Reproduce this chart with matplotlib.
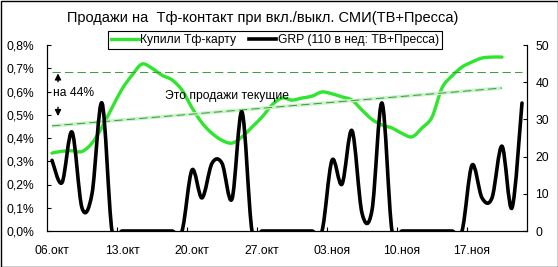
import matplotlib
matplotlib.use('Agg')
import matplotlib.pyplot as plt
from matplotlib.lines import Line2D
from matplotlib.path import Path
from matplotlib.patches import PathPatch, Rectangle

plt.rcParams['font.family'] = ['Liberation Sans', 'DejaVu Sans']

# Days from 06.окт (index 0) to 22.ноя (index 47)
tick_days = [0, 7, 14, 21, 28, 35, 42]
tick_labels = ['06.окт', '13.окт', '20.окт', '27.окт', '03.ноя', '10.ноя', '17.ноя']

# Купили Тф-карту, % (days 0..45)
sales = [0.335, 0.343, 0.345, 0.342, 0.378, 0.447, 0.530, 0.610, 0.670, 0.718,
         0.700, 0.670, 0.650, 0.606, 0.530, 0.465, 0.420, 0.390, 0.378, 0.405,
         0.447, 0.490, 0.542, 0.572, 0.563, 0.572, 0.580, 0.598, 0.590, 0.577,
         0.563, 0.520, 0.480, 0.456, 0.443, 0.420, 0.405, 0.443, 0.490, 0.615,
         0.667, 0.705, 0.727, 0.744, 0.748, 0.748]

# GRP (days 0..47)
grp = [19.0, 13.0, 26.6, 6.2, 10.0, 34.4, 0, 0, 0, 0,
       0, 0, 0, 0, 16.4, 8.9, 18.2, 18.2, 8.6, 32.0,
       0, 0, 0, 0, 0, 0, 0, 0, 19.0, 12.6,
       27.0, 4.8, 5.6, 34.4, 0, 0, 0, 0, 0, 0,
       0, 0, 17.7, 8.9, 8.9, 22.8, 6.2, 34.4]

# reference levels
top_level_x = [0, 47]
top_level_y = [0.685, 0.685]
trend_x = [0, 45]
trend_y = [0.452, 0.615]

green = '#2ee62e'
dash_green = '#3f9f3f'


def smooth_path(ys):
    # Excel-style smoothed line: bezier segments between the data points
    pts = list(enumerate(ys))
    verts = [pts[0]]
    codes = [Path.MOVETO]
    n = len(pts)
    for i in range(n - 1):
        p0 = pts[max(i - 1, 0)]
        p1 = pts[i]
        p2 = pts[i + 1]
        p3 = pts[min(i + 2, n - 1)]
        c1 = (p1[0] + (p2[0] - p0[0]) / 6, p1[1] + (p2[1] - p0[1]) / 6)
        c2 = (p2[0] - (p3[0] - p1[0]) / 6, p2[1] - (p3[1] - p1[1]) / 6)
        verts += [c1, c2, p2]
        codes += [Path.CURVE4] * 3
    return Path(verts, codes)


fig = plt.figure(figsize=(5.58, 2.67), dpi=100)
ax = fig.add_axes([47/558, 36/267, 480/558, 186/267])
ax2 = ax.twinx()

ax.plot(top_level_x, top_level_y, color=dash_green, lw=0.75, dashes=(8, 4))
ax.plot(trend_x, trend_y, color='#c9f2c9', lw=2.5, solid_capstyle='butt')
ax.plot(trend_x, trend_y, color=dash_green, lw=0.75, dashes=(8, 4))
ax.add_patch(PathPatch(smooth_path(sales), fill=False, edgecolor=green, lw=2.4,
                       joinstyle='round', capstyle='round'))
ax2.add_patch(PathPatch(smooth_path(grp), fill=False, edgecolor='black', lw=2.6,
                        joinstyle='round', capstyle='round'))

ax.set_xlim(-0.5, 47.5)
ax.set_ylim(0, 0.8)
ax2.set_xlim(-0.5, 47.5)
ax2.set_ylim(0, 50)

ax.set_yticks([i / 10 for i in range(9)])
ax.set_yticklabels([('%.1f%%' % (i / 10)).replace('.', ',') for i in range(9)])
ax2.set_yticks(range(0, 51, 10))
ax.set_xticks(tick_days)
ax.set_xticklabels(tick_labels)
ax.set_xticks([d - 0.5 for d in tick_days[1:]], minor=True)

for a in (ax, ax2):
    a.spines['top'].set_visible(False)
    a.tick_params(labelsize=8.7, direction='in', length=3, width=0.8)
ax.tick_params(axis='y', pad=9)
ax2.tick_params(axis='y', pad=6)
ax.tick_params(axis='x', which='major', length=0, pad=10)
ax.tick_params(axis='x', which='minor', length=3, width=0.8, direction='in')

# annotations
ax.text(0.1, 0.594, 'на 44%', fontsize=8.7, va='center', ha='left')
ax.annotate('', xy=(0.6, 0.678), xytext=(0.6, 0.642),
            arrowprops=dict(arrowstyle='-|>', color='black', lw=1.0,
                            mutation_scale=9, shrinkA=0, shrinkB=0))
ax.annotate('', xy=(0.6, 0.494), xytext=(0.6, 0.532),
            arrowprops=dict(arrowstyle='-|>', color='black', lw=1.0,
                            mutation_scale=9, shrinkA=0, shrinkB=0))
ax.text(11.3, 0.581, 'Это продажи текущие', fontsize=8.7, va='center', ha='left')

fig.text(263/558, 1 - 18/267, 'Продажи на  Тф-контакт при вкл./выкл. СМИ(ТВ+Пресса)',
         fontsize=10.5, ha='center', va='center')

handles = [Line2D([], [], color=green, lw=2.4),
           Line2D([], [], color='black', lw=2.6)]
leg = fig.legend(handles, ['Купили Тф-карту', 'GRP (110 в нед: ТВ+Пресса)'],
                 loc='center', bbox_to_anchor=(275/558, 1 - 40/267), ncol=2,
                 fontsize=8.7, frameon=True, fancybox=False, framealpha=1,
                 edgecolor='black', handlelength=2.3, handletextpad=0.1,
                 columnspacing=1.0, borderpad=0.25, borderaxespad=0)
leg.get_frame().set_linewidth(0.8)

# outer frame of the chart
fig.patches.append(Rectangle((0.5/558, 0.5/267), 1 - 1/558, 1 - 1/267,
                             transform=fig.transFigure, fill=False,
                             edgecolor='black', lw=1))

fig.savefig('out.png', dpi=100, facecolor='white')
